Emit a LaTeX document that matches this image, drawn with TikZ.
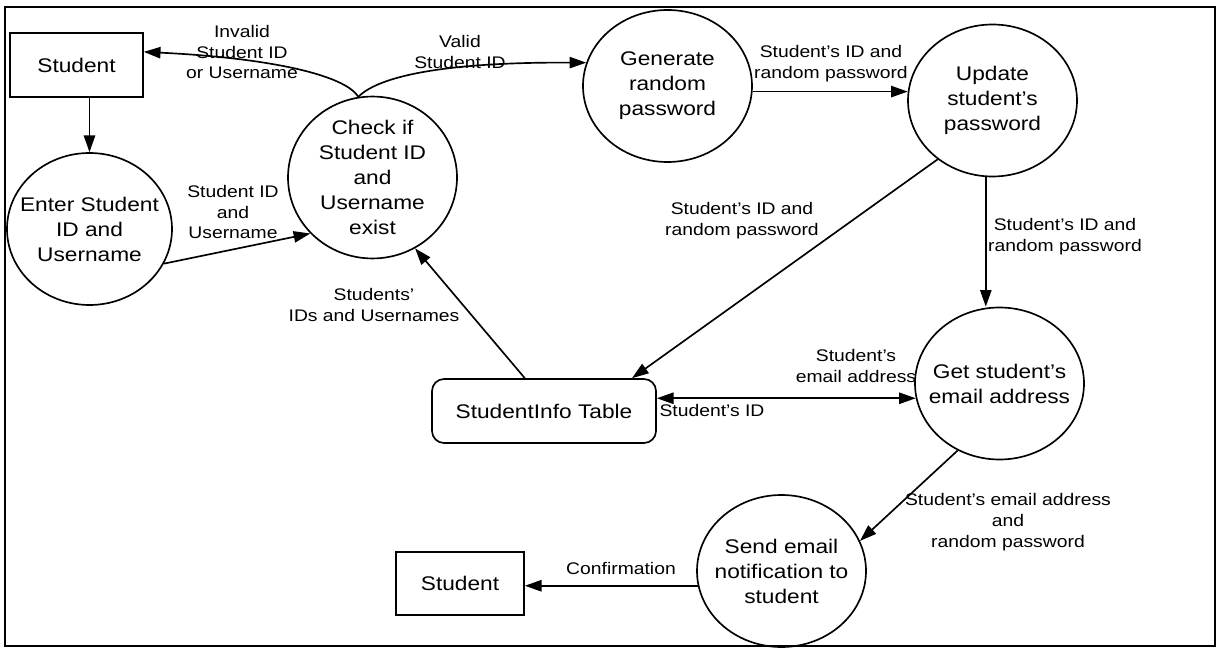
\documentclass[tikz,border=0pt]{standalone}
\usepackage{fontspec}
\setmainfont[FakeStretch=1.15]{Liberation Sans}
\usetikzlibrary{shapes.geometric,arrows.meta,calc}
\tikzset{
  tip/.tip={Triangle[length=12.5pt,width=8.5pt]},
  proc/.style={ellipse, draw, line width=1.25pt, minimum width=126.75pt,
    minimum height=114pt, inner xsep=-14pt, inner ysep=0pt, align=center,
    font=\fontsize{14.8}{18.75}\selectfont},
  entity/.style={rectangle, draw, line width=1.25pt, inner sep=0pt,
    font=\fontsize{14.8}{18.75}\selectfont},
  store/.style={rectangle, rounded corners=9pt, draw, line width=1.25pt,
    inner sep=0pt, font=\fontsize{14.8}{18.75}\selectfont},
  flow/.style={draw, line width=1.25pt, -tip},
  twoway/.style={draw, line width=1.25pt, tip-tip},
  lbl/.style={align=center, inner sep=0pt,
    font=\fontsize{12.6}{15.6}\selectfont},
}
\begin{document}
\begin{tikzpicture}[x=0.75pt, y=-0.75pt]
\useasboundingbox (0,0) rectangle (1218,649);
\fill[white] (0,0) rectangle (1218,649);
\draw[line width=1.4pt] (5,7) rectangle (1215,646);

% external entities, data store and processes
\node[entity, minimum width=99.75pt, minimum height=48pt] (student) at (76.5,65) {Student};
\node[entity, minimum width=96pt, minimum height=47.25pt] (studentout) at (460,583.5) {Student};
\node[store, minimum width=168pt, minimum height=48pt] (table) at (544,411) {StudentInfo Table};

\node[proc, minimum width=123.75pt] (enter) at (89.5,229) {Enter Student\\ID and\\Username};
\node[proc] (check) at (372.5,177.5) {Check if\\Student ID\\and\\Username\\exist};
\node[proc] (gen) at (667.5,86) {Generate\\random\\password};
\node[proc] (update) at (992.5,100.5) {Update\\student’s\\password};
\node[proc] (getmail) at (999.5,383.5) {Get student’s\\email address};
\node[proc] (send) at (781.5,571) {Send email\\notification to\\student};

% data flows
\draw[flow] (enter.north |- student.south) -- (enter.north);
\draw[flow] (enter.-25) -- (check.222);
\draw[flow] (check.100) .. controls (345,75) and (270,58) ..
  ($(student.north east)!0.3!(student.south east)$);
\draw[flow] (check.100) .. controls (380,75) and (450,62) .. (gen.164);
\draw[flow] (gen.east |- update.174) -- (update.174);
\draw[flow] (update.227) -- ($(table.north west)!0.89!(table.north east)$);
\draw[flow] (update.265) -- (update.265 |- getmail.north);
\draw[twoway] (getmail.190 -| table.east) -- (getmail.190);
\draw[flow] ($(table.north west)!0.415!(table.north east)$) -- (check.-59);
\draw[flow] (getmail.238) -- (send.21);
\draw[flow] (send.190) -- (send.190 -| studentout.east);

% flow labels
\node[lbl] (l1) at (242,52) {Invalid\\Student ID\\or Username};
\node[lbl] (l2) at (460,52) {Valid\\Student ID};
\node[lbl] (l3) at (233,212) {Student ID\\and\\Username};
\node[lbl] (l4) at (831,64) {Student’s ID and\\random password};
\node[lbl] (l5) at (742,221) {Student’s ID and\\random password};
\node[lbl] (l6) at (1065,237) {Student’s ID and\\random password};
\node[lbl] (l7) at (374,305) {Students’\\IDs and Usernames};
\node[lbl] (l8) at (856,366) {Student’s\\email address};
\node[lbl] (l9) at (712,410) {Student’s ID};
\node[lbl] (l10) at (1008,522) {Student’s email address\\and\\random password};
\node[lbl] (l11) at (621,568) {Confirmation};
\end{tikzpicture}
\end{document}
